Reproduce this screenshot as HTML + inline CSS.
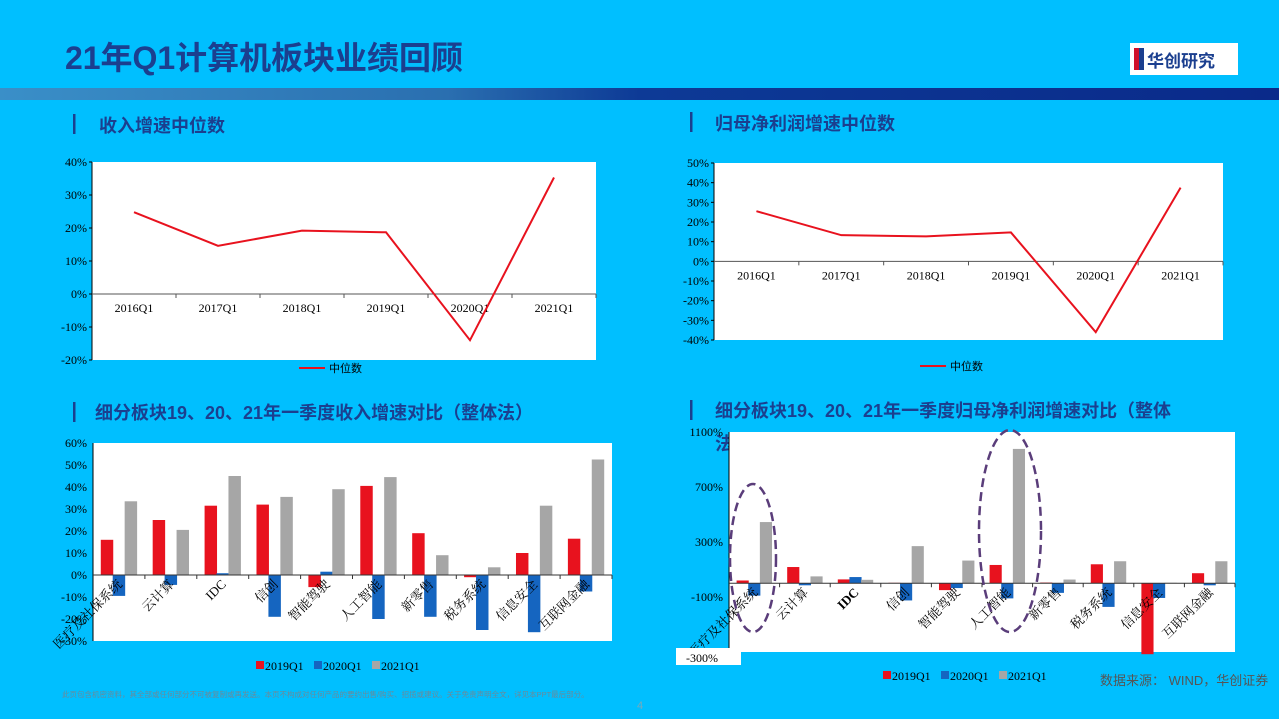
<!DOCTYPE html>
<html><head><meta charset="utf-8">
<style>
body{margin:0;width:1279px;height:719px;overflow:hidden;background:#00bfff;font-family:"Liberation Sans","Noto Sans CJK SC",sans-serif;}
svg{display:block}
</style></head>
<body>
<svg id="s" width="1279" height="719" xmlns="http://www.w3.org/2000/svg">
<defs><linearGradient id="band" x1="0" x2="1"><stop offset="0" stop-color="#3a8fc8"/><stop offset="0.35" stop-color="#2a6fb0"/><stop offset="0.5" stop-color="#0d3a96"/><stop offset="1" stop-color="#0a2a8a"/></linearGradient></defs>
<rect x="0" y="0" width="1279" height="719" fill="#00bfff"/>
<text x="65" y="69" font-size="32" font-weight="bold" fill="#1b3f8f" textLength="398" font-family="Liberation Sans,Noto Sans CJK SC,sans-serif">21年Q1计算机板块业绩回顾</text>
<g><rect x="1130" y="43" width="108" height="32" fill="#fff"/><rect x="1134" y="48" width="6" height="22" fill="#d0102a"/><rect x="1139" y="48" width="5" height="22" fill="#1b3f8f"/><text x="1147" y="67" font-size="17" font-weight="bold" fill="#1b3f8f">华创研究</text></g>
<rect x="0" y="88" width="1279" height="12" fill="url(#band)"/>
<g font-size="18" font-weight="bold" fill="#1b3f8f">
<rect x="73" y="114" width="2.5" height="20" fill="#1b3f8f"/><text x="99" y="132">收入增速中位数</text>
<rect x="690" y="112" width="2.5" height="20" fill="#1b3f8f"/><text x="715" y="130">归母净利润增速中位数</text>
<rect x="73" y="402" width="2.5" height="20" fill="#1b3f8f"/><text x="95" y="419">细分板块19、20、21年一季度收入增速对比（整体法）</text>
<rect x="690" y="400" width="2.5" height="20" fill="#1b3f8f"/><text x="715" y="417">细分板块19、20、21年一季度归母净利润增速对比（整体</text>
<text x="715" y="450">法</text>
</g>
<g id="c1"></g>
<g id="c2"></g>
<g id="c3"></g>
<g id="c4"></g>
<text x="1100" y="685" font-size="13" fill="#555">数据来源： WIND，华创证券</text>
<text x="62" y="697" font-size="7.5" fill="#6a8a9a">此页包含机密资料，其全部或任何部分不可被复制或再发送。本页不构成对任何产品的要约出售/购买、招揽或建议。关于免责声明全文，详见本PPT最后部分。</text>
<text x="637" y="709" font-size="11" fill="#7ab">4</text>
</svg>
<script>
const NS="http://www.w3.org/2000/svg";
const qCats=["2016Q1","2017Q1","2018Q1","2019Q1","2020Q1","2021Q1"];
const revMedian=[24.8,14.6,19.2,18.7,-14,35.3];
const profitMedian=[25.5,13.3,12.7,14.7,-36,37.5];
const revTicks=[40,30,20,10,0,-10,-20];
const profitTicks=[50,40,30,20,10,0,-10,-20,-30,-40];
const sectors=["医疗及社保系统","云计算","IDC","信创","智能驾驶","人工智能","新零售","税务系统","信息安全","互联网金融"];
const rev2019=[16,25,31.5,32,-5.5,40.5,19,-1,10,16.5];
const rev2020=[-9.5,-4.5,0.8,-19,1.5,-20,-19,-25,-26,-7.5];
const rev2021=[33.5,20.5,45,35.5,39,44.5,9,3.5,31.5,52.5];
const revSecTicks=[60,50,40,30,20,10,0,-10,-20,-30];
const pro2019=[20,118,28,3,-50,133,5,138,-516,73];
const pro2020=[-90,-15,45,-125,-35,-110,-70,-172,-107,-15];
const pro2021=[445,50,25,270,165,977,27,160,3,160];
const proSecTicks=[1100,700,300,-100];
function el(p,t,a,txt){const e=document.createElementNS(NS,t);for(const k in a)e.setAttribute(k,a[k]);if(txt!==undefined)e.textContent=txt;p.appendChild(e);return e;}
function lineChart(g,x0,x1,y0,y1,vmax,vmin,ticks,cats,vals,legX,legY){
  const Y=v=>y0+(vmax-v)/(vmax-vmin)*(y1-y0);
  const bw=(x1-x0)/cats.length;const X=i=>x0+bw*(i+0.5);
  el(g,'rect',{x:x0,y:y0,width:x1-x0,height:y1-y0,fill:'#fff'});
  el(g,'line',{x1:x0,y1:y0,x2:x0,y2:y1,stroke:'#000'});
  ticks.forEach(t=>{const tk=el(g,'text',{x:x0-5,y:Y(t)+4,'font-size':12,'text-anchor':'end','font-family':'Liberation Serif,serif'},t+'%');
    
    el(g,'line',{x1:x0-3,y1:Y(t),x2:x0,y2:Y(t),stroke:'#000'});});
  el(g,'line',{x1:x0,y1:Y(0),x2:x1,y2:Y(0),stroke:'#555'});
  cats.forEach((c,i)=>{el(g,'line',{x1:x0+bw*(i+1),y1:Y(0),x2:x0+bw*(i+1),y2:Y(0)+4,stroke:'#555'});
    const t=el(g,'text',{x:X(i),y:Y(0)+18,'font-size':12,'text-anchor':'middle','font-family':'Liberation Serif,serif'},c);
    });
  const l=el(g,'polyline',{points:vals.map((v,i)=>X(i)+','+Y(v)).join(' '),fill:'none',stroke:'#e8121e','stroke-width':2});
  
  const lg=el(g,'g',{});
  el(lg,'line',{x1:legX,y1:legY,x2:legX+26,y2:legY,stroke:'#e8121e','stroke-width':2});
  el(lg,'text',{x:legX+30,y:legY+4,'font-size':11},'中位数');
}
function barChart(g,x0,x1,y0,y1,vmax,vmin,ticks,cats,series,colors,names,legX,legY,serifBold){
  const Y=v=>y0+(vmax-v)/(vmax-vmin)*(y1-y0);
  const bw=(x1-x0)/cats.length;const w=bw*0.24;
  el(g,'rect',{x:x0,y:y0,width:x1-x0,height:y1-y0,fill:'#fff'});
  el(g,'line',{x1:x0,y1:y0,x2:x0,y2:y1,stroke:'#000'});
  ticks.forEach(t=>{const tk=el(g,'text',{x:x0-6,y:Y(t)+4,'font-size':12,'text-anchor':'end','font-family':'Liberation Serif,serif'},t+'%');
    });
  series.forEach((s,k)=>s.forEach((v,i)=>{const cx=x0+bw*i+bw*0.5+(k-1)*bw*0.23;
    const r=el(g,'rect',{x:cx-w/2,y:Math.min(Y(v),Y(0)),width:w,height:Math.abs(Y(v)-Y(0)),fill:colors[k]});
    }));
  el(g,'line',{x1:x0,y1:Y(0),x2:x1,y2:Y(0),stroke:'#333'});
  cats.forEach((c,i)=>{el(g,'line',{x1:x0+bw*(i+1),y1:Y(0),x2:x0+bw*(i+1),y2:Y(0)+4,stroke:'#333'});
    const cx=x0+bw*(i+0.5);const ly=Y(0)+10;
    const t=el(g,'text',{x:cx+4,y:ly,'font-size':13,'text-anchor':'end',transform:`rotate(-45 ${cx+4} ${ly})`,'font-family':'Liberation Serif,Noto Serif CJK SC,serif','font-weight':(serifBold&&c==='IDC')?'bold':'normal'},c);
    });
  names.forEach((n,k)=>{const lg=el(g,'g',{});
    const lx=legX+k*58;el(lg,'rect',{x:lx,y:legY-6,width:8,height:8,fill:colors[k]});
    el(lg,'text',{x:lx+9,y:legY+3,'font-size':12,'font-family':'Liberation Serif,serif'},n);});
}
lineChart(document.getElementById('c1'),92,596,162,360,40,-20,revTicks,qCats,revMedian,299,368);
lineChart(document.getElementById('c2'),714,1223,163,340,50,-40,profitTicks,qCats,profitMedian,920,366);
const cols=['#e8121e','#1565c0','#a6a6a6'],nm=['2019Q1','2020Q1','2021Q1'];
barChart(document.getElementById('c3'),93,612,443,641,60,-30,revSecTicks,sectors,[rev2019,rev2020,rev2021],cols,nm,256,667,false);
const g4=document.getElementById('c4');
barChart(g4,729,1235,432,652,1100,-500,proSecTicks,sectors,[pro2019,pro2020,pro2021],cols,nm,883,677,true);
el(g4,'rect',{x:676,y:648,width:65,height:17,fill:'#fff'});
el(g4,'text',{x:718,y:662,'font-size':12,'text-anchor':'end','font-family':'Liberation Serif,serif'},'-300%');
const e1=el(g4,'ellipse',{cx:753,cy:558,rx:23,ry:74,fill:'none',stroke:'#5a3d7a','stroke-width':2.5,'stroke-dasharray':'9,5'});

const e2=el(g4,'ellipse',{cx:1010,cy:531,rx:31,ry:101,fill:'none',stroke:'#5a3d7a','stroke-width':2.5,'stroke-dasharray':'9,5'});

</script>
</body></html>
